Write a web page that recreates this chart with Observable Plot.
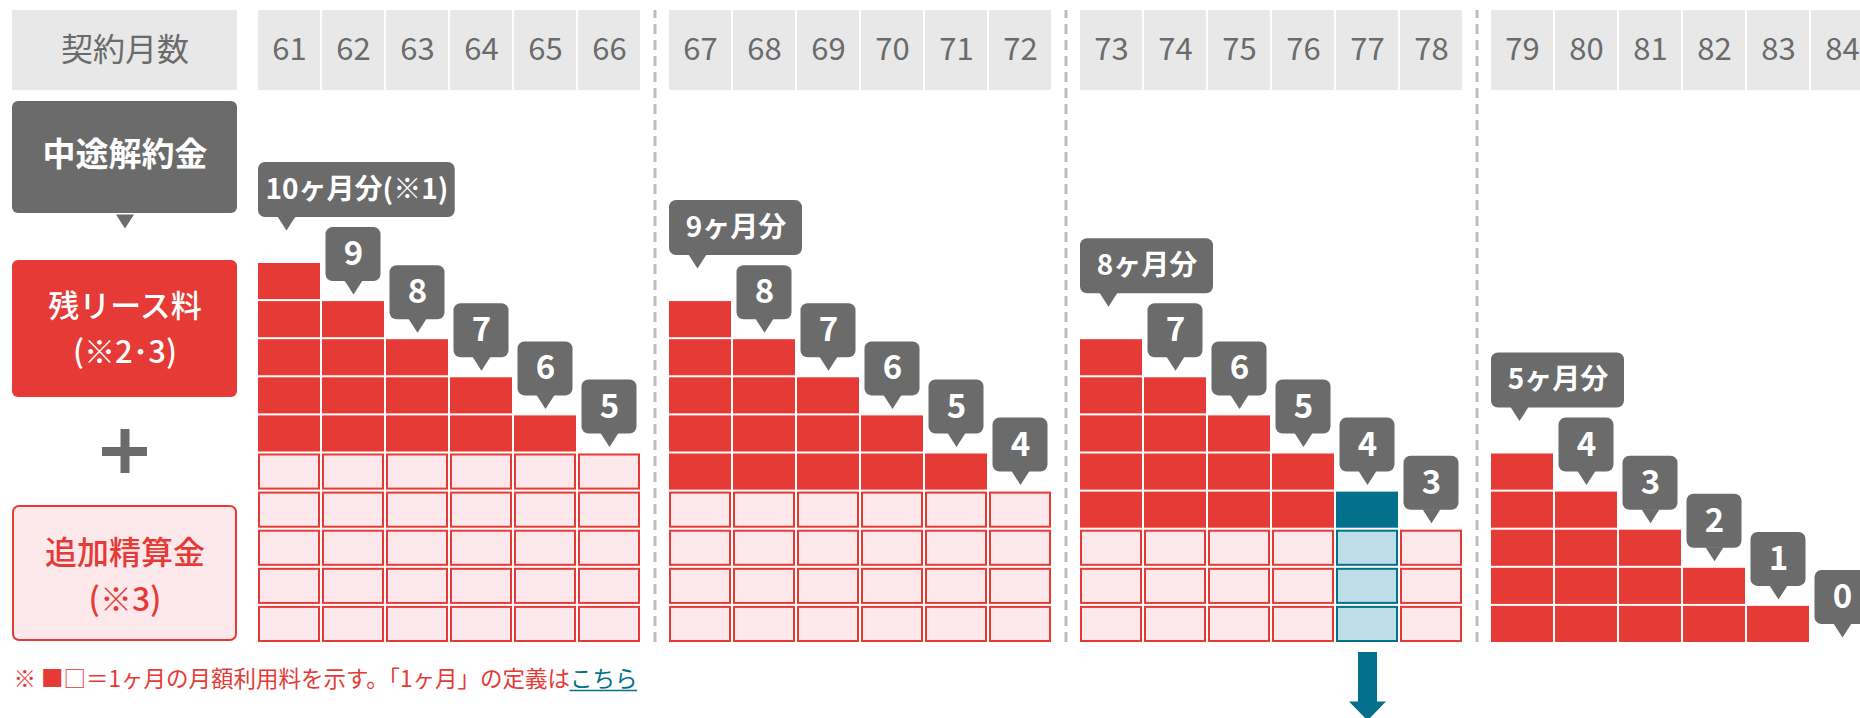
<!DOCTYPE html>
<html><head><meta charset="utf-8">
<script src="https://cdn.jsdelivr.net/npm/d3@7"></script>
<script src="https://cdn.jsdelivr.net/npm/@observablehq/plot@0.6"></script>
<style>
html,body{margin:0;padding:0;background:#fff;overflow:hidden}
#chart svg{display:block}
</style></head><body><div id="chart"></div>
<script>
// ---------------- data ----------------
const months = [61, 62, 63, 64, 65, 66, 67, 68, 69, 70, 71, 72, 73, 74, 75, 76, 77, 78, 79, 80, 81, 82, 83, 84];
// 残リース料 (months, solid red cells)
const remainingLease = [5, 4, 3, 2, 1, 0, 5, 4, 3, 2, 1, 0, 5, 4, 3, 2, 1, 0, 5, 4, 3, 2, 1, 0];
// 追加精算金 (months, outlined pink cells)
const additionalSettlement = [5, 5, 5, 5, 5, 5, 4, 4, 4, 4, 4, 4, 3, 3, 3, 3, 3, 3, 0, 0, 0, 0, 0, 0];
const groupLabels = ["10ヶ月分(※1)", "9ヶ月分", "8ヶ月分", "5ヶ月分"];
const highlightMonth = 77;
const headerLabel = "契約月数";
const feeLabel = "中途解約金";
const leaseLabel = ["残リース料", "(※2･3)"];
const settleLabel = ["追加精算金", "(※3)"];
const footnoteText = "※ ■□＝1ヶ月の月額利用料を示す。「1ヶ月」の定義は";
const footnoteLink = "こちら";

// ---------------- layout (px per unit) ----------------
const W = 1860, H = 718;
const COL = 64, ROW = 38.1;          // one month column / one month row
const X0 = 258, Y0 = 642;            // origin of the grid (left of month 61, bottom of rows)
const GROUP_PITCH = 411 / COL;       // columns per group incl. gap
const PER_GROUP = 6;
const px = v => v / COL;             // horizontal pixel length -> column units
const py = v => v / ROW;             // vertical pixel length -> row units
const ax = v => (v - X0) / COL;      // layout position helpers
const ay = v => (Y0 - v) / ROW;

const RED = "#e53a36", PINK = "#fde9ec", GRAY = "#6b6b6b", HEAD = "#e8e8e8", HEADTXT = "#6b6b6b";
const TEAL = "#03708c", LBLUE = "#bddde9", DASH = "#bdbdbd";
const FONT = "'Noto Sans CJK JP', 'Noto Sans', sans-serif";

const ctx = document.createElement("canvas").getContext("2d");
const measure = (t, f) => { ctx.font = f; return ctx.measureText(t).width; };

// ---------------- derived tables ----------------
const cols = months.map((m, i) => {
  const g = Math.floor(i / PER_GROUP), k = i % PER_GROUP;
  const red = remainingLease[i], light = additionalSettlement[i];
  return {month: m, g, k, red, light, total: red + light, x: g * GROUP_PITCH + k, hl: m === highlightMonth};
});
cols.forEach(c => c.cx = c.x + px(31));

const redCells = [], lightCells = [];
for (const c of cols) {
  for (let r = 0; r < c.light; r++) lightCells.push({x1: c.x, x2: c.x + 1, y1: r, y2: r + 1, hl: c.hl});
  for (let r = c.light; r < c.total; r++) redCells.push({x1: c.x, x2: c.x + 1, y1: r, y2: r + 1, hl: c.hl});
}

const separators = d3.range(1, 4).map(g => ((g - 1) * GROUP_PITCH + PER_GROUP - px(2) + g * GROUP_PITCH) / 2);

const small = cols.filter(c => c.k > 0).map(c => {
  const y1 = c.total + py(5 + 13);
  return {cx: c.cx, x1: c.cx - px(27.5), x2: c.cx + px(27.5), y1, y2: y1 + py(54), tipY: c.total + py(5), label: String(c.total)};
});
const bigFont = `700 28px ${FONT}`;
const big = cols.filter(c => c.k === 0).map(c => {
  const label = groupLabels[c.g];
  const w = Math.max(133, measure(label, bigFont) + 14);
  const y1 = c.total + py(31 + 13);
  return {x1: c.x, x2: c.x + px(w), cx: c.x + px(w / 2), tipX: c.x + px(28), y1, y2: y1 + py(55), tipY: c.total + py(31), label};
});

const tri = {draw(context) { context.moveTo(-9, -14); context.lineTo(9, -14); context.lineTo(0, 0); context.closePath(); }};
const arrowHead = {draw(context) { context.moveTo(-18.5, 0); context.lineTo(18.5, 0); context.lineTo(0, 19); context.closePath(); }};

const hlCol = cols.find(c => c.hl);
const leftX1 = ax(12), leftX2 = ax(237), leftCX = ax(124.5);

const footFont = `400 22.5px ${FONT}`;
const footX = ax(13), footW = measure(footnoteText, footFont), linkW = measure(footnoteLink, footFont);

const chart = Plot.plot({
  width: W, height: H, margin: 0,
  x: {domain: [ax(0), ax(W)], range: [0, W], axis: null},
  y: {domain: [ay(H), ay(0)], range: [H, 0], axis: null},
  color: {type: "identity"},
  style: {fontFamily: FONT, background: "#fff"},
  marks: [
    // dashed group separators
    Plot.ruleX(separators, {x: d => d, y1: 0, y2: ay(10), stroke: DASH, strokeWidth: 3, strokeDasharray: "10,6"}),
    // header row
    Plot.rect([0], {x1: leftX1, x2: leftX2, y1: ay(90), y2: ay(10), fill: HEAD}),
    Plot.text([headerLabel], {x: leftCX, y: ay(50), text: d => d, fill: HEADTXT, fontSize: 32}),
    Plot.rect(cols, {x1: "x", x2: d => d.x + 1, y1: ay(90), y2: ay(10), insetRight: 2, fill: HEAD}),
    Plot.text(cols, {x: "cx", y: ay(50), text: d => String(d.month), fill: HEADTXT, fontSize: 31}),
    // left legend boxes
    Plot.rect([0], {x1: leftX1, x2: leftX2, y1: ay(213), y2: ay(101), fill: GRAY, rx: 6}),
    Plot.dot([0], {x: leftCX, y: ay(228), symbol: tri, r: 5, fill: GRAY}),
    Plot.text([feeLabel], {x: leftCX, y: ay(155), text: d => d, fill: "#fff", fontSize: 33, fontWeight: 700}),
    Plot.rect([0], {x1: leftX1, x2: leftX2, y1: ay(397), y2: ay(260), fill: RED, rx: 6}),
    Plot.text(leaseLabel, {x: leftCX, y: (d, i) => ay(i === 0 ? 307 : 353), text: d => d, fill: "#fff", fontSize: 31, fontWeight: 500}),
    Plot.ruleY([0], {y: ay(451), x1: ax(102), x2: ax(147), stroke: GRAY, strokeWidth: 9}),
    Plot.ruleX([0], {x: leftCX, y1: ay(429), y2: ay(473), stroke: GRAY, strokeWidth: 9}),
    Plot.rect([0], {x1: leftX1, x2: leftX2, y1: ay(641), y2: ay(505), fill: PINK, stroke: RED, strokeWidth: 2, rx: 6, inset: 1}),
    Plot.text(settleLabel, {x: leftCX, y: (d, i) => ay(i === 0 ? 553 : 600), text: d => d, fill: RED, fontSize: 32, fontWeight: 500}),
    // cells
    Plot.rect(lightCells, {x1: "x1", x2: "x2", y1: "y1", y2: "y2", insetRight: 3, insetTop: 3, insetLeft: 1, insetBottom: 1,
      fill: d => d.hl ? LBLUE : PINK, stroke: d => d.hl ? TEAL : RED, strokeWidth: 2}),
    Plot.rect(redCells, {x1: "x1", x2: "x2", y1: "y1", y2: "y2", insetRight: 2, insetTop: 2, fill: d => d.hl ? TEAL : RED}),
    // small callouts
    Plot.rect(small, {x1: "x1", x2: "x2", y1: "y1", y2: "y2", fill: GRAY, rx: 7}),
    Plot.dot(small, {x: "cx", y: "tipY", symbol: tri, r: 5, fill: GRAY}),
    Plot.text(small, {x: "cx", y: d => (d.y1 + d.y2) / 2, text: "label", fill: "#fff", fontSize: 33, fontWeight: 700}),
    // big callouts
    Plot.rect(big, {x1: "x1", x2: "x2", y1: "y1", y2: "y2", fill: GRAY, rx: 7}),
    Plot.dot(big, {x: "tipX", y: "tipY", symbol: tri, r: 5, fill: GRAY}),
    Plot.text(big, {x: "cx", y: d => (d.y1 + d.y2) / 2, text: "label", fill: "#fff", fontSize: 28, fontWeight: 700}),
    // arrow below highlighted month
    Plot.ruleX([hlCol], {x: "cx", y1: -py(10), y2: -py(62), stroke: TEAL, strokeWidth: 19}),
    Plot.dot([hlCol], {x: "cx", y: -py(59), symbol: arrowHead, r: 5, fill: TEAL}),
    // footnote
    Plot.text([footnoteText], {x: footX, y: ay(679), text: d => d, textAnchor: "start", fill: RED, fontSize: 22.5}),
    Plot.text([footnoteLink], {x: footX + px(footW), y: ay(679), text: d => d, textAnchor: "start", fill: TEAL, fontSize: 22.5}),
    Plot.ruleY([0], {y: ay(690), x1: footX + px(footW), x2: footX + px(footW + linkW), stroke: TEAL, strokeWidth: 1.5})
  ]
});
document.getElementById("chart").append(chart);
</script>
</body></html>
